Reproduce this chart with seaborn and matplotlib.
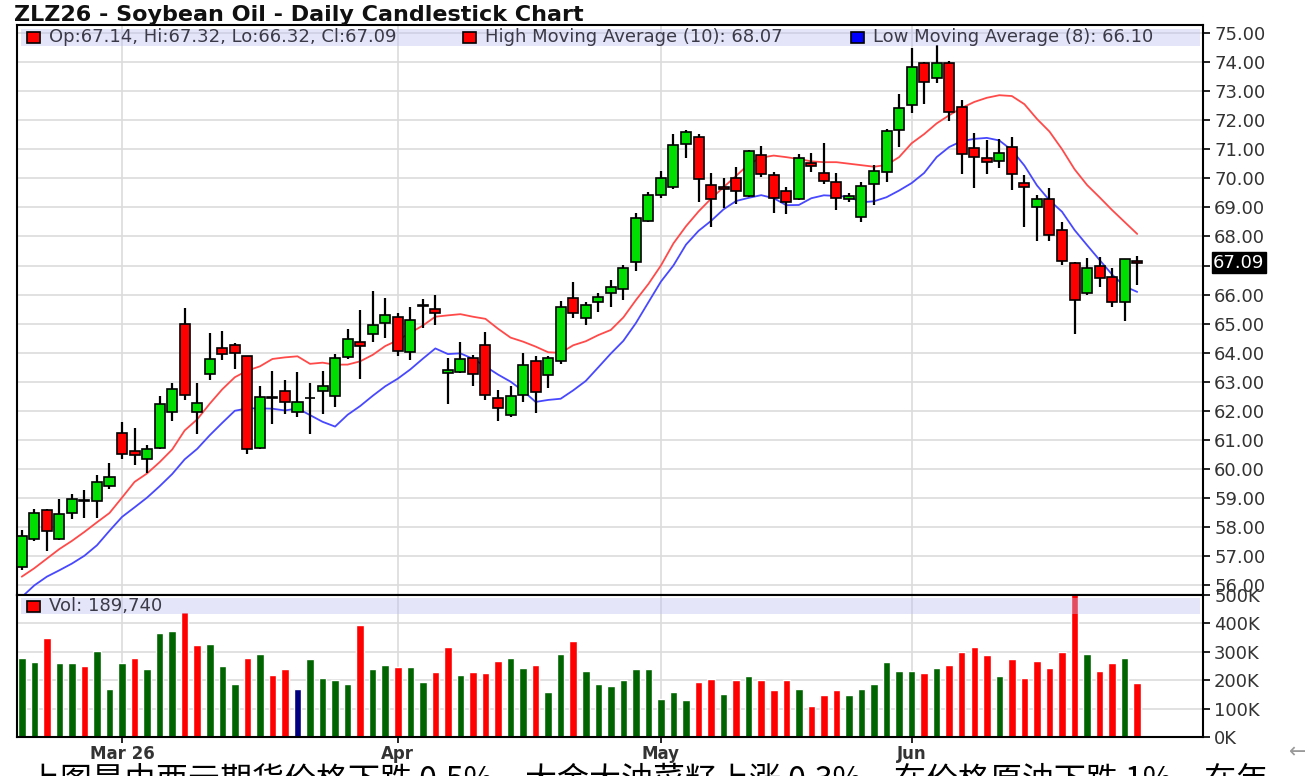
import numpy as np
import pandas as pd
import seaborn as sns
import matplotlib.pyplot as plt
from matplotlib.patches import Rectangle

# daily OHLC (bar index 0..89)
opens = [56.63, 57.61, 58.59, 57.61, 58.49, 58.93, 58.89, 59.41, 61.25, 60.62,
         60.33, 60.73, 61.95, 65.00, 61.95, 63.26, 64.17, 64.28, 63.88, 60.73,
         62.46, 62.70, 61.95, 62.43, 62.67, 62.50, 63.84, 64.37, 64.63, 65.03,
         65.24, 64.01, 65.60, 65.49, 63.32, 63.33, 63.83, 64.27, 62.46, 61.86,
         62.55, 63.70, 63.24, 63.70, 65.89, 65.18, 65.76, 66.04, 66.19, 67.13,
         68.53, 69.42, 69.71, 71.18, 71.43, 69.77, 69.71, 70.00, 69.40, 70.80,
         70.11, 69.56, 69.29, 70.51, 70.17, 69.88, 69.30, 68.67, 69.80, 70.22,
         71.65, 72.51, 73.97, 73.45, 73.97, 72.45, 71.04, 70.70, 70.59, 71.08,
         69.82, 69.02, 69.28, 68.22, 67.09, 66.04, 66.99, 66.61, 65.75, 67.14]
highs = [57.90, 58.63, 58.62, 58.98, 59.15, 59.28, 59.81, 60.20, 61.61, 61.41,
         60.82, 62.50, 62.96, 65.55, 62.96, 64.67, 64.76, 64.34, 63.90, 62.86,
         63.36, 63.05, 63.33, 62.96, 63.36, 63.97, 64.80, 65.46, 66.12, 65.89,
         65.37, 65.59, 65.84, 65.99, 63.83, 64.38, 63.92, 64.73, 62.72, 62.84,
         63.98, 63.89, 63.89, 65.78, 66.44, 65.76, 66.04, 66.50, 67.02, 68.79,
         69.54, 70.25, 71.51, 71.66, 71.51, 70.17, 70.00, 70.40, 70.97, 71.11,
         70.22, 69.71, 70.85, 70.88, 71.22, 70.17, 69.48, 69.88, 70.45, 71.71,
         72.91, 74.48, 74.00, 74.57, 74.02, 72.68, 71.54, 71.31, 71.34, 71.42,
         70.11, 69.42, 69.65, 68.50, 67.13, 67.26, 67.30, 66.92, 67.24, 67.32]
lows = [56.52, 57.51, 57.18, 57.57, 58.30, 58.32, 58.32, 59.31, 60.33, 60.14,
        59.87, 60.69, 61.65, 62.37, 61.21, 63.05, 63.75, 63.45, 60.53, 60.69,
        61.56, 61.88, 61.78, 61.21, 61.91, 62.13, 63.78, 63.09, 64.37, 64.50,
        63.88, 63.75, 64.86, 64.96, 62.23, 63.29, 62.87, 62.38, 61.66, 61.80,
        62.32, 61.92, 62.78, 63.62, 65.18, 64.96, 65.41, 65.59, 65.81, 66.81,
        68.51, 69.31, 69.63, 70.68, 69.19, 68.34, 68.99, 69.10, 69.37, 70.05,
        68.79, 68.76, 69.25, 70.20, 69.79, 68.91, 69.19, 68.50, 69.07, 69.88,
        71.08, 72.25, 72.57, 73.29, 71.96, 70.13, 69.67, 70.16, 70.36, 69.59,
        68.33, 67.84, 67.84, 67.01, 64.63, 66.00, 66.27, 65.58, 65.09, 66.32]
closes = [57.71, 58.49, 57.86, 58.47, 58.98, 58.91, 59.55, 59.74, 60.53, 60.49,
          60.70, 62.24, 62.76, 62.54, 62.28, 63.79, 63.95, 63.99, 60.69, 62.48,
          62.44, 62.30, 62.30, 62.44, 62.86, 63.82, 64.47, 64.24, 64.96, 65.29,
          64.05, 65.13, 65.62, 65.36, 63.41, 63.79, 63.26, 62.55, 62.09, 62.52,
          63.58, 62.64, 63.83, 65.59, 65.38, 65.64, 65.93, 66.27, 66.90, 68.62,
          69.42, 70.02, 71.14, 71.60, 69.96, 69.27, 69.62, 69.56, 70.93, 70.13,
          69.31, 69.17, 70.71, 70.42, 69.90, 69.33, 69.38, 69.73, 70.25, 71.63,
          72.42, 73.83, 73.31, 73.97, 72.28, 70.82, 70.74, 70.56, 70.88, 70.13,
          69.70, 69.28, 68.04, 67.15, 65.81, 66.90, 66.58, 65.75, 67.21, 67.09]
# volume in thousands of contracts
volumes_k = [279, 265, 349, 259, 259, 249, 304, 168, 259, 279,
             239, 365, 374, 441, 324, 329, 249, 185, 279, 294,
             220, 239, 168, 274, 209, 200, 185, 394, 239, 254,
             245, 245, 194, 229, 318, 220, 229, 224, 268, 279,
             244, 253, 159, 294, 339, 233, 185, 179, 200, 239,
             239, 135, 159, 129, 194, 204, 153, 200, 214, 200,
             165, 200, 168, 108, 149, 165, 149, 168, 188, 265,
             233, 233, 224, 244, 253, 298, 318, 288, 214, 273,
             208, 268, 244, 298, 520, 294, 233, 259, 279, 189.74]
# moving average values before a full window is available
high_ma_start = [56.30, 56.59, 56.92, 57.25, 57.53, 57.84, 58.17, 58.49, 59.02]
low_ma_start = [55.60, 56.00, 56.30, 56.52, 56.75, 57.02, 57.38]

month_pos = [8, 30, 51, 71]
month_labels = ["Mar 26", "Apr", "May", "Jun"]

# prepare data
df = pd.DataFrame({"open": opens, "high": highs, "low": lows, "close": closes,
                   "vol": np.array(volumes_k) * 1000})
df["idx"] = np.arange(len(df))
df["high_ma"] = df["high"].rolling(10).mean()
df["low_ma"] = df["low"].rolling(8).mean()
df.loc[:len(high_ma_start) - 1, "high_ma"] = high_ma_start
df.loc[:len(low_ma_start) - 1, "low_ma"] = low_ma_start
chg = df["close"].diff().fillna(1)
df["dir"] = np.where(chg > 0, "up", np.where(chg < 0, "down", "flat"))

W, H = 1305, 776
def fx(x):
    return x / W
def fy(y):
    return 1 - y / H

sns.set_style("white")
plt.rcParams["font.family"] = ["DejaVu Sans", "Noto Sans CJK SC"]

fig = plt.figure(figsize=(W / 100, H / 100), dpi=100)
ax = fig.add_axes([fx(17), fy(595), (1203 - 17) / W, (595 - 25) / H])
axv = fig.add_axes([fx(17), fy(737), (1203 - 17) / W, (737 - 595) / H])

xlim = (-0.38, 94.25)
grid_kw = dict(color="#dcdcdc", lw=1.2, zorder=0)

# ---- price panel
for m in month_pos:
    ax.axvline(m, **grid_kw)
for p in range(56, 76):
    ax.axhline(p, **grid_kw)

sns.lineplot(data=df, x="idx", y="high_ma", color="#ff4a4a", lw=1.3, ax=ax, zorder=2)
sns.lineplot(data=df, x="idx", y="low_ma", color="#4848ff", lw=1.3, ax=ax, zorder=2)

ax.vlines(df["idx"], df["low"], df["high"], color="black", lw=1.6, zorder=3)
body_lo = df[["open", "close"]].min(axis=1)
body_h = (df["close"] - df["open"]).abs().clip(lower=0.025)
body_col = np.where(df["close"] >= df["open"], "#00dd00", "#ff0000")
ax.bar(df["idx"], body_h, bottom=body_lo, width=0.8, color=body_col,
       edgecolor="black", lw=1.2, zorder=4)

ax.set_xlim(*xlim)
ax.set_ylim(55.67, 75.27)
ax.yaxis.tick_right()
ax.set_yticks(range(56, 76))
ax.set_yticklabels(["" if p == 67 else f"{p:.2f}" for p in range(56, 76)])
ax.tick_params(axis="y", right=True, length=5, width=1.2, color="black",
               labelsize=13, labelcolor="#333333", pad=3)
ax.set_xticks([])
ax.set_xlabel("")
ax.set_ylabel("")
ax.text(1.0085, closes[-1], f"{closes[-1]:.2f}", transform=ax.get_yaxis_transform(),
        ha="left", va="center", fontsize=13, color="white",
        bbox=dict(facecolor="black", edgecolor="black", pad=1.0))

# ---- volume panel
for m in month_pos:
    axv.axvline(m, **grid_kw)
for v in range(100000, 500001, 100000):
    axv.axhline(v, **grid_kw)

sns.barplot(data=df, x="idx", y="vol", hue="dir", native_scale=True,
            palette={"up": "#006400", "down": "#ff0000", "flat": "#000080"},
            dodge=False, width=0.6, saturation=1, errorbar=None, legend=False,
            ax=axv, zorder=2)
axv.set_xlim(*xlim)
axv.set_ylim(0, 500000)
axv.yaxis.tick_right()
axv.set_yticks(range(0, 500001, 100000))
axv.set_yticklabels([f"{v // 1000}K" for v in range(0, 500001, 100000)])
axv.tick_params(axis="y", right=True, length=5, width=1.2, color="black",
                labelsize=13, labelcolor="#333333", pad=3)
axv.set_xticks(month_pos)
axv.set_xticklabels(month_labels, fontweight="bold")
axv.tick_params(axis="x", bottom=True, length=4, width=1.2, color="black",
                labelsize=12, labelcolor="#333333", pad=2)
axv.set_xlabel("")
axv.set_ylabel("")

for a in (ax, axv):
    for s in a.spines.values():
        s.set_color("black")
        s.set_linewidth(1.5)

# ---- legend bands
band_col = (192 / 255, 192 / 255, 242 / 255)
for y0, y1 in [(29, 46), (598, 614)]:
    fig.add_artist(Rectangle((fx(21), fy(y1)), (1200 - 21) / W, (y1 - y0) / H,
                             transform=fig.transFigure, facecolor=band_col,
                             edgecolor="none", alpha=0.4, zorder=4))

legend_items = [(27, 37.5, "#ff0000", "Op:67.14, Hi:67.32, Lo:66.32, Cl:67.09"),
                (463, 37.5, "#ff0000", "High Moving Average (10): 68.07"),
                (851, 37.5, "#0000ff", "Low Moving Average (8): 66.10"),
                (27, 606, "#ff0000", "Vol: 189,740")]
for x0, yc, col, label in legend_items:
    fig.add_artist(Rectangle((fx(x0), fy(yc + 5.5)), 13 / W, 11 / H,
                             transform=fig.transFigure, facecolor=col,
                             edgecolor="black", lw=1.2, zorder=6))
    fig.text(fx(x0 + 22), fy(yc), label, ha="left", va="center",
             fontsize=13, color="#3a3a48", zorder=6)

fig.text(fx(14), fy(15), "ZLZ26 - Soybean Oil - Daily Candlestick Chart",
         ha="left", va="center", fontsize=16, fontweight="bold", color="#111111")

fig.text(fx(28), fy(765), "上图是由西元期货价格下跌 0.5%，大金大油菜籽上涨 0.3%，在价格原油下跌 1%，在年",
         ha="left", va="top", fontsize=23, color="black",
         family=["Noto Sans CJK SC", "DejaVu Sans"])
fig.text(fx(1298), fy(752), "←", ha="center", va="center", fontsize=15, color="#999999")

fig.savefig("out.png", dpi=100)
